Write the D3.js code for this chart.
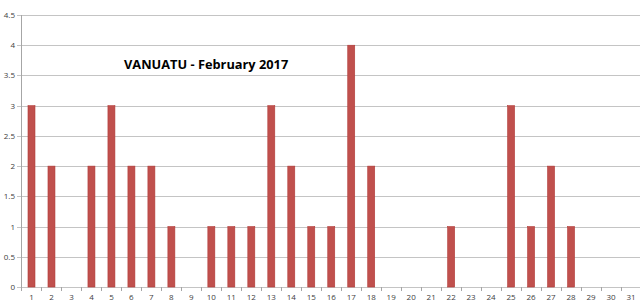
<!DOCTYPE html>
<meta charset="utf-8">
<style>
body { margin: 0; background: #fff; }
svg text { font-family: "Open Sans", "Liberation Sans", Arial, sans-serif; }
</style>
<div id="chart"></div>
<script src="https://cdn.jsdelivr.net/npm/d3@7/dist/d3.min.js"></script>
<script>
var days = d3.range(1, 32).map(String)
var counts = [3, 2, 0, 2, 3, 2, 2, 1, 0, 1, 1, 1, 3, 2, 1, 1, 4, 2, 0, 0, 0, 1, 0, 0, 3, 1, 2, 1, 0, 0, 0]
var yTicks = [0, 0.5, 1, 1.5, 2, 2.5, 3, 3.5, 4, 4.5]

var width = 640, height = 304
var margin = {top: 15, right: -1, bottom: 17, left: 21}

var svg = d3.select('#chart').append('svg')
    .attr('width', width).attr('height', height)

var x = d3.scaleBand().domain(days)
    .range([margin.left + 0.5, width - margin.right])
    .paddingInner(0.65).paddingOuter(0.325)
var y = d3.scaleLinear().domain([0, 4.5])
    .range([height - margin.bottom, margin.top])

// gridlines
svg.append('g').selectAll('line').data(yTicks).join('line')
    .attr('x1', margin.left - 4).attr('x2', width)
    .attr('y1', function(d){ return Math.round(y(d)) + 0.5 })
    .attr('y2', function(d){ return Math.round(y(d)) + 0.5 })
    .style('stroke', '#c4c4c4')

// y labels
svg.append('g').selectAll('text').data(yTicks).join('text')
    .attr('x', 15).attr('y', function(d){ return y(d) + 3 })
    .attr('text-anchor', 'end')
    .style('font-size', '8px').style('fill', '#404040')
    .text(function(d){ return d })

// y axis line
svg.append('line')
    .attr('x1', margin.left + 0.5).attr('x2', margin.left + 0.5)
    .attr('y1', margin.top).attr('y2', height - margin.bottom + 4)
    .style('stroke', '#a6a6a6')

// x axis ticks
var step = x.step()
svg.append('g').selectAll('line').data(days).join('line')
    .attr('x1', function(d){ return Math.round(x(d) - x.paddingInner() * step / 2 + step) + 0.5 })
    .attr('x2', function(d){ return Math.round(x(d) - x.paddingInner() * step / 2 + step) + 0.5 })
    .attr('y1', y(0)).attr('y2', y(0) + 4)
    .style('stroke', '#a6a6a6')

// bars
svg.append('g').selectAll('rect').data(counts).join('rect')
    .attr('x', function(d, i){ return x(days[i]) })
    .attr('width', x.bandwidth())
    .attr('y', function(d){ return y(d) })
    .attr('height', function(d){ return y(0) - y(d) })
    .style('fill', '#c0504d')
    .style('stroke', '#b23b38').style('stroke-width', 0.6)

// x labels
svg.append('g').selectAll('text').data(days).join('text')
    .attr('x', function(d){ return x(d) + x.bandwidth() / 2 })
    .attr('y', 300)
    .attr('text-anchor', 'middle')
    .style('font-size', '8px').style('fill', '#404040')
    .text(function(d){ return d })

svg.append('text')
    .attr('x', 124).attr('y', 69)
    .style('font-size', '12.8px').style('font-weight', 'bold').style('fill', '#000')
    .text('VANUATU - February 2017')
</script>
